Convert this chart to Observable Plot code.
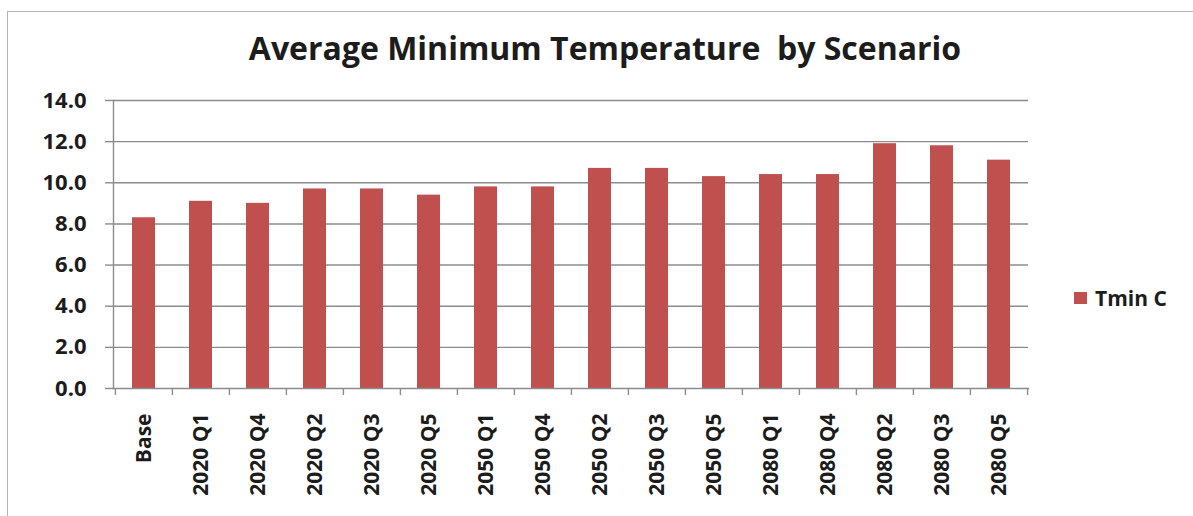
<!DOCTYPE html>
<html>
<head>
<meta charset="utf-8">
<script src="https://cdn.jsdelivr.net/npm/d3@7"></script>
<script src="https://cdn.jsdelivr.net/npm/@observablehq/plot@0.6"></script>
<style>
  html, body { margin: 0; padding: 0; background: #fff; }
  #wrap { position: relative; width: 1193px; height: 516px; overflow: hidden; font-family: "Open Sans", sans-serif; }
  #border { position: absolute; left: 7px; top: 11px; width: 1300px; height: 700px; border: 1.5px solid #b4b4b4; box-sizing: border-box; }
  #title { position: absolute; left: 0; width: 1210px; top: 32px; text-align: center; font-weight: 700; font-size: 32px; line-height: 32px; color: #1c1c1c; white-space: pre; }
  #legend { position: absolute; left: 1074px; top: 284px; display: flex; align-items: center; font-weight: 700; font-size: 21px; color: #1c1c1c; }
  #legend .sw { width: 13px; height: 12px; margin-right: 8px; }
  #chart { position: absolute; left: 0; top: 0; }
</style>
</head>
<body>
<div id="wrap">
  <div id="border"></div>
  <div id="chart"></div>
  <div id="title"></div>
  <div id="legend"></div>
</div>
<script>
const titleText = "Average Minimum Temperature  by Scenario";
const seriesName = "Tmin C";
const seriesColor = "#C0504D";
const categories = ["Base","2020 Q1","2020 Q4","2020 Q2","2020 Q3","2020 Q5","2050 Q1","2050 Q4","2050 Q2","2050 Q3","2050 Q5","2080 Q1","2080 Q4","2080 Q2","2080 Q3","2080 Q5"];
const tminC = [8.3, 9.1, 9.0, 9.7, 9.7, 9.4, 9.8, 9.8, 10.7, 10.7, 10.3, 10.4, 10.4, 11.9, 11.8, 11.1];
const yTicks = [0, 2, 4, 6, 8, 10, 12, 14];

const data = categories.map((c, i) => ({scenario: c, value: tminC[i]}));

const W = 1193, H = 516, mL = 113, mR = 165, mT = 100, mB = 128;
const step = (W - mL - mR) / categories.length;
const gridColor = "#8c8c8c";
const textColor = "#1c1c1c";
const font = "'Open Sans', sans-serif";

const chart = Plot.plot({
  width: W, height: H,
  marginLeft: mL, marginRight: mR, marginTop: mT, marginBottom: mB,
  x: {domain: categories, paddingInner: 0.6, paddingOuter: 0.3, axis: null},
  y: {domain: [0, 14], axis: null},
  style: {fontFamily: font, fontWeight: 700, color: textColor, background: "transparent", overflow: "visible"},
  marks: [
    Plot.gridY(yTicks.filter(d => d > 0), {stroke: gridColor, strokeOpacity: 1, strokeWidth: 1.4}),
    Plot.axisY(yTicks, {tickSize: 8, tickPadding: 19, tickFormat: d3.format(".1f"), stroke: gridColor, strokeWidth: 1.4, fontSize: 22, fontWeight: 700, label: null, fill: textColor}),
    Plot.barY(data, {x: "scenario", y: "value", fill: seriesColor}),
    Plot.frame({anchor: "left", stroke: gridColor, strokeWidth: 1.4}),
    Plot.frame({anchor: "bottom", stroke: gridColor, strokeWidth: 1.4}),
    Plot.axisX(categories, {tickSize: 7, dx: -step / 2, fill: "none", stroke: gridColor, strokeWidth: 1.4, label: null, tickFormat: () => ""}),
    Plot.axisX([categories[categories.length - 1]], {tickSize: 7, dx: step / 2, fill: "none", stroke: gridColor, strokeWidth: 1.4, label: null, tickFormat: () => ""}),
    Plot.axisX(categories, {tickSize: 0, tickPadding: 25, tickRotate: -90, fontSize: 21, fontWeight: 700, fill: textColor, label: null})
  ]
});
document.getElementById("chart").appendChild(chart);
document.getElementById("title").textContent = titleText;
const lg = document.getElementById("legend");
const sw = document.createElement("span");
sw.className = "sw";
sw.style.background = seriesColor;
lg.appendChild(sw);
const lt = document.createElement("span");
lt.textContent = seriesName;
lg.appendChild(lt);
</script>
</body>
</html>
